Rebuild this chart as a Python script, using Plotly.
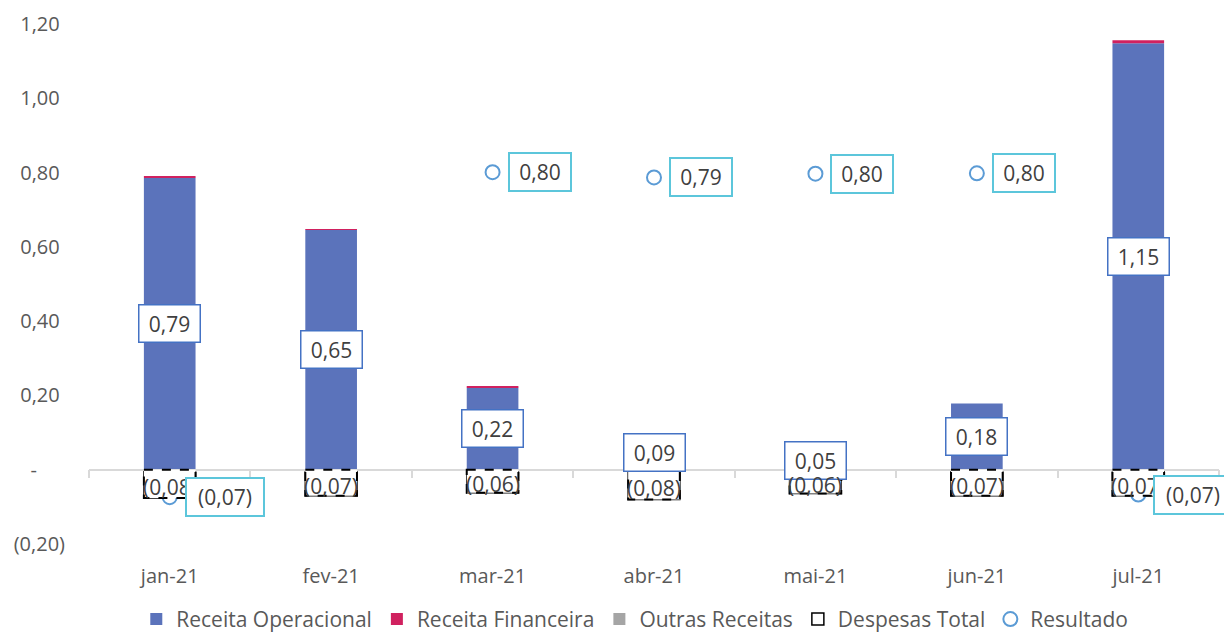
import plotly.graph_objects as go

months = ["jan-21", "fev-21", "mar-21", "abr-21", "mai-21", "jun-21", "jul-21"]
receita_operacional = [0.786, 0.646, 0.221, 0.093, 0.050, 0.178, 1.148]
receita_financeira = [0.004, 0.002, 0.004, 0.005, 0.0, 0.0, 0.008]
outras_receitas = [0.0, 0.0, 0.0, 0.0, 0.0, 0.0, 0.0]
despesas_total = [-0.076, -0.070, -0.062, -0.080, -0.064, -0.070, -0.070]
resultado = [-0.074, None, 0.801, 0.787, 0.797, 0.798, -0.067]

y_tickvals = [-0.2, 0.0, 0.2, 0.4, 0.6, 0.8, 1.0, 1.2]
y_ticktext = ["(0,20)", "-\u2007\u2007\u2008", "0,20\u2008", "0,40\u2008", "0,60\u2008",
              "0,80\u2008", "1,00\u2008", "1,20\u2008"]

FONT = "Open Sans"
BLUE = "#5B73BB"
PINK = "#D0215F"
GRAY = "#A5A5A5"
RES = "#5B9BD5"
RES_BOX = "#5CC6DB"
LBL_BOX = "#4472C4"
TXT = "#404040"
BAR_W = 0.32


def fmt(v):
    s = "{:.2f}".format(abs(v)).replace(".", ",")
    return "(" + s + ")" if v < 0 else s


n = len(months)
fig = go.Figure()
fig.add_trace(go.Bar(name="Receita Operacional", x=months, y=receita_operacional,
                     marker=dict(color=BLUE, line=dict(width=0)), width=BAR_W))
fig.add_trace(go.Bar(name="Receita Financeira", x=months, y=receita_financeira,
                     marker=dict(color=PINK, line=dict(width=0)), width=BAR_W))
fig.add_trace(go.Bar(name="Outras Receitas", x=months, y=outras_receitas,
                     marker=dict(color=GRAY, line=dict(width=0)), width=BAR_W))
fig.add_trace(go.Bar(name="Despesas Total", x=months, y=despesas_total,
                     marker=dict(color="white", line=dict(color="black", width=1.5)),
                     width=BAR_W))
fig.add_trace(go.Scatter(name="Resultado", x=months, y=resultado, mode="markers",
                         marker=dict(symbol="circle", size=14, color="white",
                                     line=dict(color=RES, width=2))))
# carrier for the category-boundary axis drawn at zero
fig.add_trace(go.Scatter(x=[-0.5, n - 0.5], y=[None, None], xaxis="x2", mode="lines",
                         showlegend=False, hoverinfo="skip"))

# dashed outline for the expense bars
for i, v in enumerate(despesas_total):
    fig.add_shape(type="rect", xref="x", yref="y", x0=i - BAR_W / 2, x1=i + BAR_W / 2,
                  y0=0, y1=v, line=dict(color="black", width=2, dash="dash"),
                  fillcolor="white", layer="above")

ann = []
for m, v in zip(months, receita_operacional):
    t = fmt(v)
    ann.append(dict(x=m, y=v / 2, xref="x", yref="y", text=t, showarrow=False,
                    font=dict(family=FONT, size=21, color=TXT), bgcolor="white",
                    bordercolor=LBL_BOX, borderwidth=1.5, borderpad=4,
                    width=8 * len(t) + 20, xanchor="center", yanchor="middle"))
for m, v in zip(months, despesas_total):
    ann.append(dict(x=m, y=v / 2, xref="x", yref="y", text=fmt(v), showarrow=False,
                    font=dict(family=FONT, size=21, color=TXT), yshift=-3,
                    xanchor="center", yanchor="middle"))
for m, v in zip(months, resultado):
    if v is None:
        continue
    t = fmt(v)
    ann.append(dict(x=m, y=v, xref="x", yref="y", text=t, showarrow=False,
                    font=dict(family=FONT, size=21, color=TXT), bgcolor="white",
                    bordercolor=RES_BOX, borderwidth=2, borderpad=4,
                    width=8 * len(t) + 20, xanchor="left", yanchor="middle", xshift=15))

fig.update_layout(
    width=1224, height=638,
    margin=dict(l=89, r=5, t=24, b=94, autoexpand=False),
    barmode="relative",
    plot_bgcolor="white", paper_bgcolor="white",
    font=dict(family=FONT, color="#595959", size=20),
    showlegend=True,
    legend=dict(orientation="h", x=0.483, xanchor="center", y=-0.145, yanchor="middle",
                font=dict(family=FONT, size=21, color="#595959"), traceorder="normal"),
    xaxis=dict(type="category", categoryarray=months, range=[-0.5, n - 0.5],
               showline=False, showgrid=False, zeroline=False, ticks="",
               ticklabelstandoff=18, tickfont=dict(size=20, color="#595959")),
    xaxis2=dict(overlaying="x", anchor="free", position=0.2 / 1.4, side="bottom",
                range=[-0.5, n - 0.5], tickmode="array",
                tickvals=[i - 0.5 for i in range(n + 1)], showticklabels=False,
                ticks="outside", ticklen=8, tickcolor="#D9D9D9", tickwidth=1.5,
                showline=True, linecolor="#D9D9D9", linewidth=1.5,
                showgrid=False, zeroline=False),
    yaxis=dict(range=[-0.2, 1.2], tickmode="array", tickvals=y_tickvals,
               ticktext=y_ticktext, showgrid=False, zeroline=False, showline=False,
               ticks="", ticklabelstandoff=23, tickfont=dict(size=20, color="#595959")),
    annotations=ann,
)

fig.write_html("out.html", config={"displayModeBar": False},
               post_script="document.body.style.margin='0';")
